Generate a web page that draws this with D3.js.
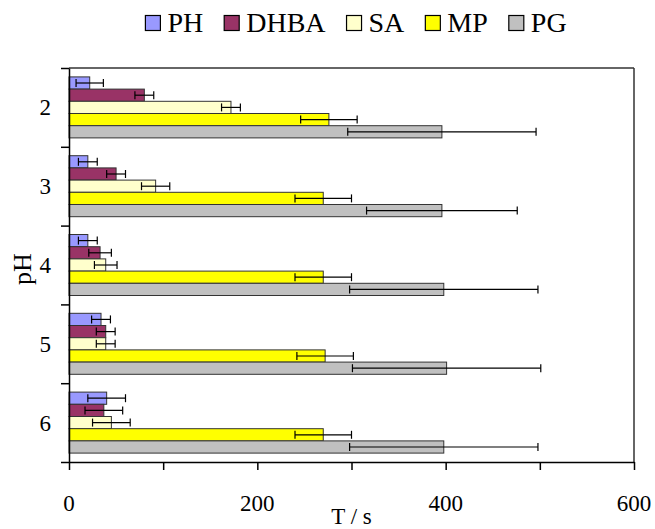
<!DOCTYPE html>
<html>
<head>
<meta charset="utf-8">
<script src="https://cdn.jsdelivr.net/npm/d3@7"></script>
<style>
  html, body { margin: 0; padding: 0; background: #fff; }
  svg { display: block; }
</style>
</head>
<body>
<svg id="chart" width="655" height="529"></svg>
<script>
// pH levels (categories) and measured times per compound
const categories = ["2", "3", "4", "5", "6"];
const seriesNames = ["PH", "DHBA", "SA", "MP", "PG"];
const seriesColors = ["#9999FF", "#993366", "#FFFFCC", "#FFFF00", "#C0C0C0"];

const PH = [22, 20, 20, 34, 40];
const PH_err = [14.5, 10, 10, 10, 20];
const DHBA = [80, 50, 33, 39, 37];
const DHBA_err = [10, 10, 12, 10, 20];
const SA = [172, 92, 39, 39, 45];
const SA_err = [10, 15, 12, 10, 20];
const MP = [276, 270, 270, 272, 270];
const MP_err = [30, 30, 30, 30, 30];
const PG = [396, 396, 398, 401, 398];
const PG_err = [100, 80, 100, 100, 100];

const xTicks = [0, 100, 200, 300, 400, 500, 600];
const xTickLabels = [0, 200, 400, 600];

const FONT = "'Liberation Serif', Tinos, 'Times New Roman', 'DejaVu Serif', serif";

const values = [PH, DHBA, SA, MP, PG];
const errors = [PH_err, DHBA_err, SA_err, MP_err, PG_err];

const rows = [];
categories.forEach((c, ci) => {
  seriesNames.forEach((s, si) => {
    rows.push({ cat: c, series: s, si, value: values[si][ci], err: errors[si][ci] });
  });
});

const svg = d3.select("#chart");
const plot = { left: 69, right: 634, top: 68, bottom: 462 };

const x = d3.scaleLinear().domain([0, 600]).range([plot.left, plot.right]);
const y = d3.scaleBand().domain(categories).range([plot.top, plot.bottom]).padding(0);
const y1 = d3.scaleBand().domain(seriesNames).range([0, y.bandwidth()])
  .paddingInner(0).paddingOuter(0.73);
const yEdges = d3.scaleLinear().domain([0, categories.length]).range([plot.top, plot.bottom]);

// plot frame: top and right edges
svg.append("line").attr("x1", plot.left).attr("x2", plot.right)
  .attr("y1", plot.top).attr("y2", plot.top)
  .attr("stroke", "#333").attr("stroke-width", 1.5);
svg.append("line").attr("x1", plot.right).attr("x2", plot.right)
  .attr("y1", plot.top).attr("y2", plot.bottom)
  .attr("stroke", "#333").attr("stroke-width", 1.5);

// bars
svg.append("g").selectAll("rect").data(rows).join("rect")
  .attr("x", x(0))
  .attr("y", d => y(d.cat) + y1(d.series))
  .attr("width", d => x(d.value) - x(0))
  .attr("height", y1.bandwidth())
  .attr("fill", d => seriesColors[d.si])
  .attr("stroke", "#333")
  .attr("stroke-width", 1);

// error bars (symmetric, with end caps)
const eb = svg.append("g").attr("stroke", "#000").attr("stroke-width", 1.2);
rows.forEach(d => {
  const cy = y(d.cat) + y1(d.series) + y1.bandwidth() / 2;
  const x0 = x(d.value - d.err), x1 = x(d.value + d.err);
  eb.append("line").attr("x1", x0).attr("x2", x1).attr("y1", cy).attr("y2", cy);
  eb.append("line").attr("x1", x0).attr("x2", x0).attr("y1", cy - 4).attr("y2", cy + 4);
  eb.append("line").attr("x1", x1).attr("x2", x1).attr("y1", cy - 4).attr("y2", cy + 4);
});

// x axis: ticks every 100, labels every 200
const xAxis = svg.append("g").attr("transform", `translate(0,${plot.bottom})`)
  .call(d3.axisBottom(x).tickValues(xTicks).tickSize(8).tickSizeOuter(0).tickFormat(""));
xAxis.select(".domain").attr("stroke", "#000").attr("stroke-width", 1.5);
xAxis.selectAll(".tick line").attr("stroke", "#000").attr("stroke-width", 1.5);

svg.append("g").selectAll("text").data(xTickLabels).join("text")
  .attr("x", d => x(d))
  .attr("y", 511)
  .attr("text-anchor", "middle")
  .style("font-family", FONT)
  .style("font-size", "23px")
  .text(d => d);

// y axis: ticks at category boundaries
const yAxis = svg.append("g").attr("transform", `translate(${plot.left},0)`)
  .call(d3.axisLeft(yEdges).tickValues(d3.range(categories.length + 1)).tickSize(8).tickSizeOuter(0).tickFormat(""));
yAxis.select(".domain").attr("stroke", "#000").attr("stroke-width", 1.5);
yAxis.selectAll(".tick line").attr("stroke", "#000").attr("stroke-width", 1.5);

svg.append("g").selectAll("text").data(categories).join("text")
  .attr("x", 51)
  .attr("y", d => y(d) + y.bandwidth() / 2 + 8)
  .attr("text-anchor", "end")
  .style("font-family", FONT)
  .style("font-size", "23px")
  .text(d => d);

// axis titles
svg.append("text")
  .attr("x", (plot.left + plot.right) / 2)
  .attr("y", 524)
  .attr("text-anchor", "middle")
  .style("font-family", FONT)
  .style("font-size", "23px")
  .text("T / s");

svg.append("text")
  .attr("transform", `translate(31,269) rotate(-90)`)
  .attr("text-anchor", "middle")
  .style("font-family", FONT)
  .style("font-size", "26px")
  .text("pH");

// legend across the top
const legend = svg.append("g");
const sq = 15, gapText = 7, gapItem = 21;
let lx = 0;
seriesNames.forEach((s, i) => {
  const g = legend.append("g").attr("transform", `translate(${lx},0)`);
  g.append("rect").attr("x", 0).attr("y", -sq / 2).attr("width", sq).attr("height", sq)
    .attr("fill", seriesColors[i]).attr("stroke", "#000").attr("stroke-width", 1.2);
  const t = g.append("text").attr("x", sq + gapText).attr("y", 9)
    .style("font-family", FONT)
    .style("font-size", "28px").text(s);
  lx += sq + gapText + t.node().getComputedTextLength() + gapItem;
});
const legendWidth = lx - gapItem;
legend.attr("transform", `translate(${356 - legendWidth / 2},23)`);
</script>
</body>
</html>
